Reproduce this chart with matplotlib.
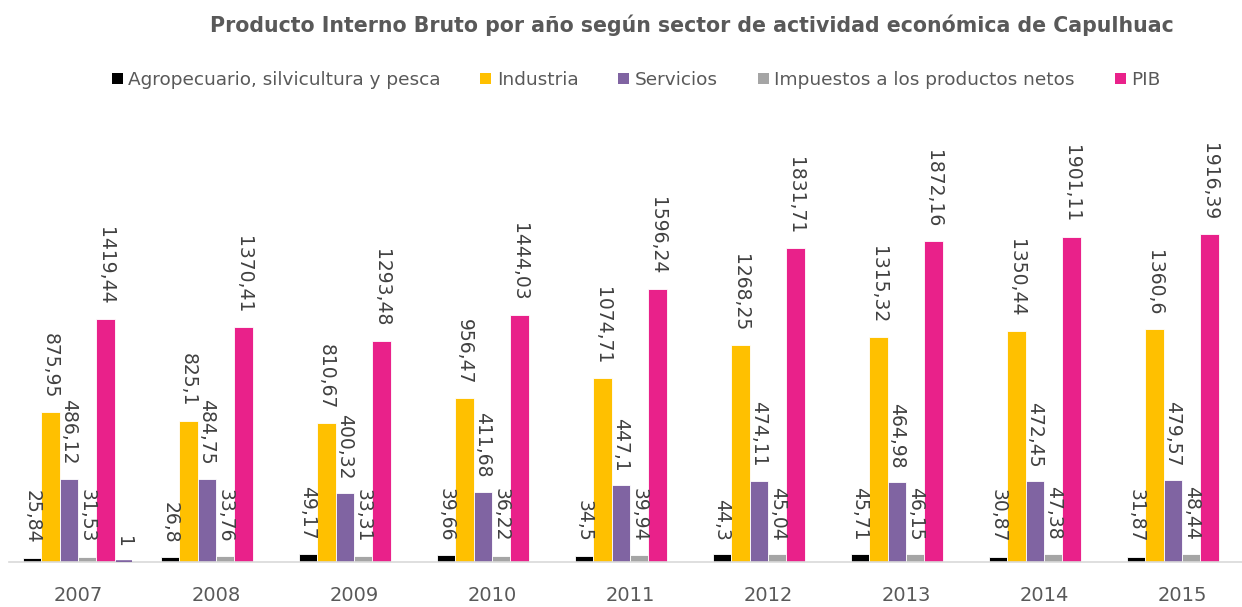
import numpy as np
import matplotlib
matplotlib.use("Agg")
import matplotlib.pyplot as plt
from matplotlib.patches import Patch

years = ["2007", "2008", "2009", "2010", "2011", "2012", "2013", "2014", "2015"]
agro = [25.84, 26.8, 49.17, 39.66, 34.5, 44.3, 45.71, 30.87, 31.87]
industria = [875.95, 825.1, 810.67, 956.47, 1074.71, 1268.25, 1315.32, 1350.44, 1360.6]
servicios = [486.12, 484.75, 400.32, 411.68, 447.1, 474.11, 464.98, 472.45, 479.57]
impuestos = [31.53, 33.76, 33.31, 36.22, 39.94, 45.04, 46.15, 47.38, 48.44]
pib = [1419.44, 1370.41, 1293.48, 1444.03, 1596.24, 1831.71, 1872.16, 1901.11, 1916.39]
extra = [1, None, None, None, None, None, None, None, None]

series_names = ["Agropecuario, silvicultura y pesca", "Industria", "Servicios",
                "Impuestos a los productos netos", "PIB", None]
series_vals = [agro, industria, servicios, impuestos, pib, extra]
colors = ["#000000", "#FFC000", "#8064A2", "#A5A5A5", "#E9218A", "#8064A2"]

def fmt(v):
    s = ("%.2f" % v).rstrip("0").rstrip(".")
    return s.replace(".", ",")

fig = plt.figure(figsize=(12.42, 6.07), dpi=100)
W, H = 1242, 607
ax = fig.add_axes([9 / W, (H - 562) / H, (W - 9) / W, 428 / H])

n = len(series_vals)
w = 0.8 / n
x = np.arange(len(years))
handles = []
for i, (vals, c, name) in enumerate(zip(series_vals, colors, series_names)):
    xs = [xi + (i - (n - 1) / 2) * w for xi, v in zip(x, vals) if v is not None]
    vs = [v for v in vals if v is not None]
    if name is None:
        ax.bar(xs, vs, width=w * 0.92, color=c, edgecolor=c, linewidth=2.6, zorder=4)
    else:
        ax.bar(xs, vs, width=w, color=c, edgecolor="white", linewidth=0.6, zorder=2)
    for xx, vv in zip(xs, vs):
        ax.annotate(fmt(vv), (xx, vv), xytext=(0, 10), textcoords="offset points",
                    rotation=-90, ha="center", va="bottom", fontsize=13.5,
                    color="#404040", annotation_clip=False, zorder=3)
    if name:
        handles.append(Patch(facecolor=c, label=name))

ax.set_xlim(-0.5, 8.435)
ax.set_ylim(0, 2500)
ax.set_xticks(x)
ax.set_xticklabels(years, fontsize=14, color="#595959")
ax.tick_params(axis="x", length=0, pad=17)
ax.set_yticks([])
for s in ["top", "right", "left"]:
    ax.spines[s].set_visible(False)
ax.spines["bottom"].set_color("#D9D9D9")
ax.spines["bottom"].set_linewidth(1.2)

fig.text(692 / W, 1 - 25 / H, "Producto Interno Bruto por año según sector de actividad económica de Capulhuac",
         ha="center", va="center", fontsize=14.8, fontweight="bold", color="#595959")

fig.legend(handles=handles, loc="center", bbox_to_anchor=(636 / W, 1 - 80 / H), ncol=5,
           frameon=False, fontsize=13.3, labelcolor="#595959", handlelength=0.6,
           handleheight=0.6, handletextpad=0.3, columnspacing=2.15)

fig.savefig("out.png", dpi=100)
